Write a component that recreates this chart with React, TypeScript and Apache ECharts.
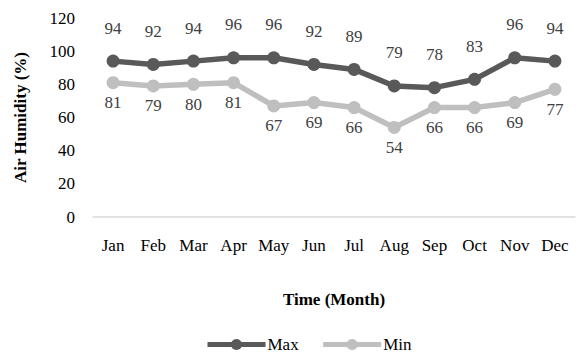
import React, { useEffect, useRef } from "react";
import * as echarts from "echarts";

const months = ["Jan", "Feb", "Mar", "Apr", "May", "Jun", "Jul", "Aug", "Sep", "Oct", "Nov", "Dec"];
const maxValues = [94, 92, 94, 96, 96, 92, 89, 79, 78, 83, 96, 94];
const minValues = [81, 79, 80, 81, 67, 69, 66, 54, 66, 66, 69, 77];
const yTicks = { min: 0, max: 120, interval: 20 };

const FONT = "'Liberation Serif', 'Times New Roman', serif";

export default function App() {
  const ref = useRef<HTMLDivElement>(null);
  useEffect(() => {
    if (!ref.current) return;
    const chart = echarts.init(ref.current, null, { renderer: "svg" });
    chart.setOption({
      animation: false,
      textStyle: { fontFamily: FONT },
      grid: { left: 93, right: 10, top: 18, bottom: 143, containLabel: false },
      legend: {
        bottom: 2,
        left: 200,
        itemWidth: 58,
        itemHeight: 14,
        itemGap: 22,
        lineStyle: { width: 5 },
        textStyle: { fontFamily: FONT, fontSize: 17, color: "#000", padding: [0, 0, 0, -3] },
        data: ["Max", "Min"],
      },
      xAxis: {
        type: "category",
        data: months,
        boundaryGap: true,
        name: "Time (Month)",
        nameLocation: "middle",
        nameGap: 74,
        nameTextStyle: { fontFamily: FONT, fontSize: 17, fontWeight: "bold", color: "#000" },
        axisLine: { lineStyle: { color: "#d9d9d9", width: 1.5 } },
        axisTick: { show: false },
        axisLabel: { fontFamily: FONT, fontSize: 17, color: "#000", margin: 20, interval: 0 },
      },
      yAxis: {
        type: "value",
        min: yTicks.min,
        max: yTicks.max,
        interval: yTicks.interval,
        name: "Air Humidity (%)",
        nameLocation: "middle",
        nameRotate: 90,
        nameGap: 64,
        nameTextStyle: { fontFamily: FONT, fontSize: 17, fontWeight: "bold", color: "#000" },
        axisLine: { show: false },
        axisTick: { show: false },
        splitLine: { show: false },
        axisLabel: { fontFamily: FONT, fontSize: 17, color: "#000", margin: 18 },
      },
      series: [
        {
          name: "Max",
          type: "line",
          data: maxValues,
          symbol: "circle",
          symbolSize: 13,
          lineStyle: { color: "#595959", width: 5.5 },
          itemStyle: { color: "#595959" },
          label: {
            show: true,
            position: "top",
            distance: 18,
            fontFamily: FONT,
            fontSize: 17,
            color: "#404040",
          },
        },
        {
          name: "Min",
          type: "line",
          data: minValues,
          symbol: "circle",
          symbolSize: 13,
          lineStyle: { color: "#bfbfbf", width: 5.5 },
          itemStyle: { color: "#bfbfbf" },
          label: {
            show: true,
            position: "bottom",
            distance: 5,
            fontFamily: FONT,
            fontSize: 17,
            color: "#404040",
          },
        },
      ],
    });
    return () => chart.dispose();
  }, []);
  return <div ref={ref} style={{ width: 585, height: 360, position: "absolute", left: 0, top: 0, background: "#fff" }} />;
}
